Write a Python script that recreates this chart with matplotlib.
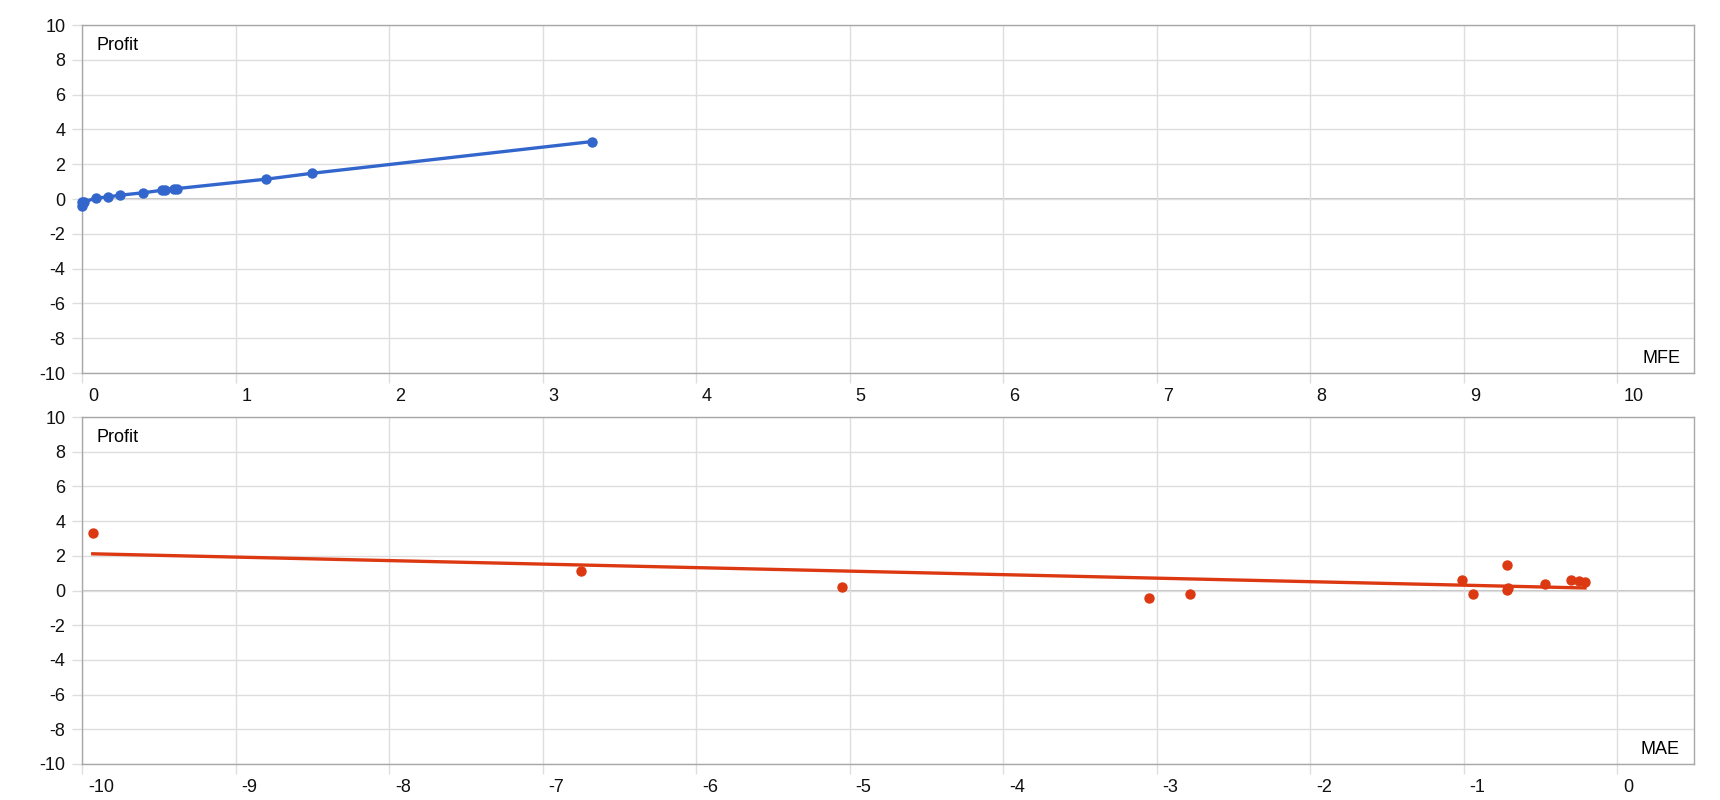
import numpy as np
import matplotlib
matplotlib.use("Agg")
import matplotlib.pyplot as plt
from matplotlib.transforms import ScaledTranslation

plt.rcParams['font.family'] = ['Liberation Sans', 'DejaVu Sans']
plt.rcParams['axes.unicode_minus'] = False

# one entry per trade
mfe = [3.32, 1.20, 0.25, 0.00, 0.00, 0.62, 0.01, 1.50, 0.09, 0.17, 0.40, 0.60, 0.54, 0.52]
mae = [-9.93, -6.75, -5.05, -3.05, -2.78, -1.01, -0.94, -0.72, -0.72, -0.71, -0.47, -0.30, -0.25, -0.21]
profit = [3.30, 1.14, 0.22, -0.42, -0.18, 0.60, -0.18, 1.48, 0.05, 0.12, 0.36, 0.60, 0.52, 0.50]

top_xticks = list(range(0, 11))
bottom_xticks = list(range(-10, 1))
yticks = list(range(-10, 11, 2))

blue = "#3366cc"
red = "#dc3912"
grid_c = "#dedede"
frame_c = "#a8a8a8"

fig = plt.figure(figsize=(17.2, 8), dpi=100)
ax1 = fig.add_axes([82 / 1720, 1 - 373 / 800, 1612 / 1720, 348 / 800])
ax2 = fig.add_axes([82 / 1720, 1 - 764 / 800, 1612 / 1720, 347 / 800])


def style(ax, xticks, xlim, xname):
    ax.set_xlim(*xlim)
    ax.set_ylim(-10, 10)
    ax.set_xticks(xticks)
    ax.set_yticks(yticks)
    ax.grid(True, color=grid_c, linewidth=1.0, zorder=0)
    ax.axhline(0, color="#c4c4c4", linewidth=1.4, zorder=1)
    for s in ax.spines.values():
        s.set_color(frame_c)
        s.set_linewidth(1.0)
    ax.tick_params(axis="both", length=7, color=grid_c, width=1.0,
                   labelsize=13, labelcolor="#111111")
    ax.tick_params(axis="y", pad=5)
    ax.tick_params(axis="x", pad=4)
    for lab in ax.get_xticklabels():
        lab.set_horizontalalignment("left")
        lab.set_transform(lab.get_transform() + ScaledTranslation(6 / 100, 0, fig.dpi_scale_trans))
    ax.annotate("Profit", xy=(0, 1), xycoords="axes fraction", xytext=(14, -25),
                textcoords="offset pixels", ha="left", va="baseline", fontsize=13)
    ax.annotate(xname, xy=(1, 0), xycoords="axes fraction", xytext=(-14, 10),
                textcoords="offset pixels", ha="right", va="baseline", fontsize=13)


style(ax1, top_xticks, (0, 10.5), "MFE")
style(ax2, bottom_xticks, (-10, 0.5), "MAE")

# MFE vs profit, joined in x order
order = np.argsort(mfe, kind="stable")
ax1.plot(np.array(mfe)[order], np.array(profit)[order], color=blue, linewidth=2.4,
         marker="o", markersize=6.5, zorder=3, clip_on=False)

# MAE vs profit with linear trendline
ax2.scatter(mae, profit, color=red, s=42, zorder=3, clip_on=False)
k, b = np.polyfit(mae, profit, 1)
tx = np.array([min(mae), max(mae)])
ax2.plot(tx, k * tx + b, color=red, linewidth=2.4, zorder=2)

fig.savefig("out.png", dpi=100)
